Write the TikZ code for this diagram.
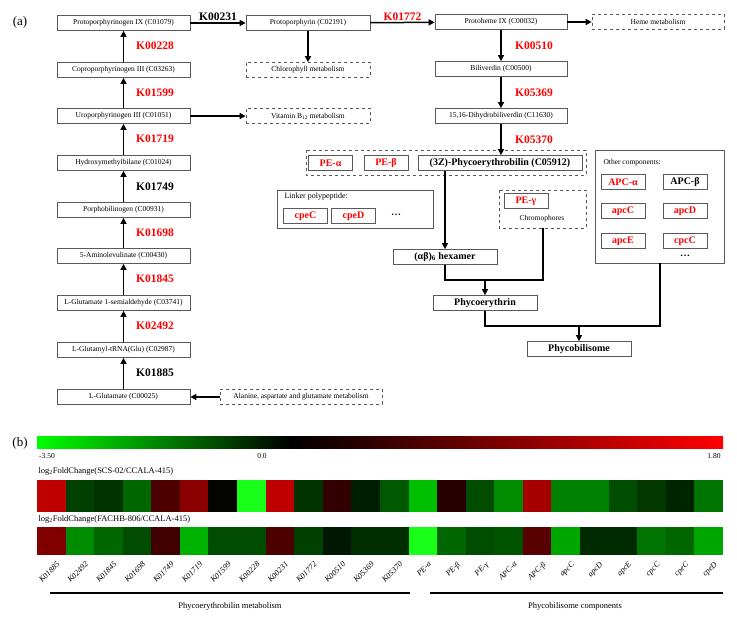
\documentclass[tikz,border=0pt]{standalone}
\usepackage{fontspec}
\setmainfont{Liberation Serif}
\usetikzlibrary{arrows.meta}
\definecolor{kred}{rgb}{1,0,0}
\definecolor{bord}{rgb}{0.35,0.35,0.35}
\tikzset{
 cbox/.style={draw=bord,line width=0.7pt,minimum height=15pt,inner sep=1pt,font=\fontsize{7.5}{8}\selectfont,anchor=center},
 dbox/.style={cbox,dashed},
 gbox/.style={draw=bord,line width=0.8pt,minimum height=15pt,minimum width=44pt,inner sep=1pt,font=\bfseries\fontsize{10}{11}\selectfont,text=kred},
 klab/.style={font=\bfseries\fontsize{11.5}{12}\selectfont,text=kred},
 kblk/.style={font=\bfseries\fontsize{11.5}{12}\selectfont},
 arr/.style={line width=1.5pt,-{Triangle[length=6pt,width=6pt]}},
 ln/.style={line width=1.5pt},
}
\begin{document}
\begin{tikzpicture}[x=1pt,y=-1pt]
\useasboundingbox[fill=white] (0,0) rectangle (737,620);
\node[font=\fontsize{13}{14}\selectfont] at (20,22) {(a)};
\node[font=\fontsize{13}{14}\selectfont] at (20,443) {(b)};
% left column
\foreach \n/\y/\t in {a/23/Protoporphyrinogen IX (C01079),b/70/Coproporphyrinogen III (C03263),c/116/Uroporphyrinogen III (C01051),d/163/Hydroxymethylbilane (C01024),e/210/Porphobilinogen (C00931),f/256/5-Aminolevulinate (C00430),g/303/L-Glutamate 1-semialdehyde (C03741),h/350/L-Glutamyl-tRNA(Glu) (C02987),i/397/L-Glutamate (C00025)}
  \node[cbox,minimum width=133pt] (\n) at (123.5,\y) {\t};
\foreach \u/\l in {b/a,c/b,d/c,e/d,f/e,g/f,h/g,i/h} \draw[arr] (\u) -- (\l);
\node[klab] at (155,46) {K00228};
\node[klab] at (155,93) {K01599};
\node[klab] at (155,139) {K01719};
\node[kblk] at (155,187) {K01749};
\node[klab] at (155,233) {K01698};
\node[klab] at (155,279) {K01845};
\node[klab] at (155,326) {K02492};
\node[kblk] at (155,373) {K01885};
% middle
\node[cbox,minimum width=124pt] (pp) at (308,23) {Protoporphyrin (C02191)};
\node[dbox,minimum width=124pt] (chl) at (308,70) {Chlorophyll metabolism};
\node[dbox,minimum width=124pt] (vb) at (308,116) {Vitamin B\textsubscript{12} metabolism};
\node[dbox,minimum width=162pt] (ala) at (301,397) {Alanine, aspartate and glutamate metabolism};
\draw[arr] (a) -- (pp) node[kblk,midway,above=-2pt] {K00231};
\draw[arr] (pp) -- (chl);
\draw[arr] (c) -- (vb);
\draw[arr] (ala) -- (i);
% right column
\node[cbox,minimum width=132pt] (ph) at (501,22) {Protoheme IX (C00032)};
\node[dbox,minimum width=132pt] (hm) at (658,22) {Heme metabolism};
\node[cbox,minimum width=132pt] (bv) at (501,69) {Biliverdin (C00500)};
\node[cbox,minimum width=132pt] (dh) at (501,116) {15,16-Dihydrobiliverdin (C11630)};
\draw[arr] (pp) -- (ph) node[klab,midway,above=-2pt] {K01772};
\draw[arr] (ph) -- (hm);
\draw[arr] (ph) -- (bv) node[klab,midway,right=10pt] {K00510};
\draw[arr] (bv) -- (dh) node[klab,midway,right=10pt] {K05369};
% PE group
\draw[bord,dashed,line width=0.7pt] (306,150) rectangle (586,175);
\node[gbox] (pea) at (330.5,163) {PE-α};
\node[gbox] (peb) at (386,163) {PE-β};
\node[gbox,text=black,minimum width=164pt] (peb2) at (500,163) {(3Z)-Phycoerythrobilin (C05912)};
\draw[arr] (dh) -- (peb2.north -| dh) node[klab,midway,right=10pt] {K05370};
% linker
\draw[bord,line width=0.8pt] (277,190) rectangle (433,228);
\node[font=\fontsize{8}{9}\selectfont,anchor=west] at (281,197) {Linker polypeptide:};
\node[gbox] (cpec) at (305.5,216) {cpeC};
\node[gbox] (cped) at (353.5,216) {cpeD};
\node[font=\bfseries\fontsize{10}{11}\selectfont] at (396,215) {\dots};
% PE-gamma
\draw[bord,dashed,line width=0.7pt] (499,190) rectangle (586,228);
\node[gbox] (peg) at (526,201) {PE-γ};
\node[font=\fontsize{7.5}{8}\selectfont] at (542,219) {Chromophores};
% other components
\draw[bord,line width=0.8pt] (595,150) rectangle (724,263);
\node[font=\fontsize{7.5}{8}\selectfont,anchor=west] at (600,163) {Other components:};
\node[gbox] at (623,182) {APC-α};
\node[gbox,text=black] at (685,182) {APC-β};
\node[gbox] at (623,211) {apcC};
\node[gbox] at (685,211) {apcD};
\node[gbox] at (623,241) {apcE};
\node[gbox] at (685,241) {cpcC};
\node[font=\bfseries\fontsize{10}{11}\selectfont] at (685,256) {\dots};
\coordinate (oc) at (660,263);
% assembly
\node[gbox,text=black,minimum width=104pt] (hex) at (445,257) {(αβ)\textsubscript{6} hexamer};
\node[gbox,text=black,minimum width=104pt] (pe) at (485,303) {Phycoerythrin};
\node[gbox,text=black,minimum width=104pt] (pbs) at (579,349) {Phycobilisome};
\draw[arr] (peb2.south -| hex) -- (hex);
\coordinate (pg) at (543,228);
\draw[ln] (hex.south) |- (543,280) -- (pg);
\draw[arr] (485,280) -- (pe);
\draw[ln] (pe.south) |- (660,326) -- (oc);
\draw[arr] (579,326) -- (pbs);
% color bar
\shade[left color={rgb,1:red,0;green,1;blue,0},right color=black] (37,437) rectangle (290,449);
\shade[left color=black,right color={rgb,1:red,1;green,0;blue,0}] (290,437) rectangle (723,449);
\node[font=\fontsize{7.5}{8}\selectfont] at (47,456) {-3.50};
\node[font=\fontsize{7.5}{8}\selectfont] at (262,456) {0.0};
\node[font=\fontsize{7.5}{8}\selectfont] at (714,456) {1.80};
\node[font=\fontsize{8.5}{9}\selectfont,anchor=west] at (35,471) {log\textsubscript{2}FoldChange(SCS-02/CCALA-415)};
\node[font=\fontsize{8.5}{9}\selectfont,anchor=west] at (35,519) {log\textsubscript{2}FoldChange(FACHB-806/CCALA-415)};
\foreach \i/\r/\g/\b in {0/0.75/0/0,1/0/0.25/0,2/0/0.2/0,3/0/0.4/0,4/0.3/0/0,5/0.55/0/0,6/0.02/0.02/0,7/0.1/1/0.1,8/0.75/0/0,9/0/0.2/0,10/0.2/0/0,11/0/0.12/0,12/0/0.35/0,13/0/0.75/0,14/0.15/0/0,15/0/0.3/0,16/0/0.55/0,17/0.65/0/0,18/0/0.5/0,19/0/0.5/0,20/0/0.3/0,21/0/0.22/0,22/0/0.15/0,23/0/0.45/0}{
  \definecolor{cc}{rgb}{\r,\g,\b}
  \fill[cc] ({37+\i*28.583},480) rectangle ({37+(\i+1)*28.583},512);}
\foreach \i/\r/\g/\b in {0/0.5/0/0,1/0/0.55/0,2/0/0.4/0,3/0/0.3/0,4/0.25/0/0,5/0/0.7/0,6/0/0.3/0,7/0/0.3/0,8/0.3/0/0,9/0/0.25/0,10/0/0.1/0,11/0/0.18/0,12/0/0.18/0,13/0.1/1/0.1,14/0/0.4/0,15/0/0.3/0,16/0/0.33/0,17/0.35/0/0,18/0/0.65/0,19/0/0.17/0,20/0/0.17/0,21/0/0.45/0,22/0/0.4/0,23/0/0.65/0}{
  \definecolor{cc}{rgb}{\r,\g,\b}
  \fill[cc] ({37+\i*28.583},527) rectangle ({37+(\i+1)*28.583},555);}
\foreach \t [count=\i from 0] in {K01885,K02492,K01845,K01698,K01749,K01719,K01599,K00228,K00231,K01772,K00510,K05369,K05370,PE-α,PE-β,PE-γ,APC-α,APC-β,apcC,apcD,apcE,cpcC,cpeC,cpeD}
  \node[font=\itshape\fontsize{8}{9}\selectfont,rotate=45,anchor=north east,inner sep=0pt] at ({37+(\i+0.5)*28.583+5},561) {\t};
\draw[line width=1.5pt] (50,593) -- (410,593);
\draw[line width=1.5pt] (430,593) -- (723,593);
\node[font=\fontsize{8.5}{9}\selectfont] at (230,606) {Phycoerythrobilin metabolism};
\node[font=\fontsize{8.5}{9}\selectfont] at (575,606) {Phycobilisome components};
\end{tikzpicture}
\end{document}
